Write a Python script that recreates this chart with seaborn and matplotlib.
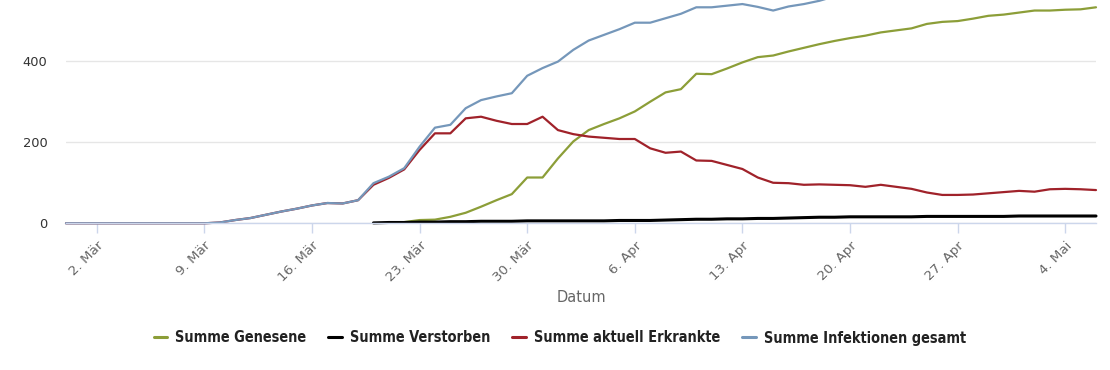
import numpy as np
import pandas as pd
import matplotlib
matplotlib.use("Agg")
import matplotlib.pyplot as plt
from matplotlib import font_manager
import seaborn as sns

# ---------------- data ----------------
start_date = "2020-02-29"
n_days = 68  # 29 Feb .. 6 May

# Summe Genesene (starts 22 Mar)
genesene_start = "2020-03-22"
genesene = [3, 8, 9, 16, 26, 41, 57, 72, 113, 113, 160, 202, 230, 245, 259, 276,
            300, 323, 331, 369, 368, 382, 397, 410, 414, 424, 433, 442, 450, 457,
            463, 471, 476, 481, 492, 497, 499, 505, 512, 515, 520, 525, 525, 527,
            528, 533]

# Summe Verstorben (starts 20 Mar)
verstorben_start = "2020-03-20"
verstorben = [1, 2, 2, 3, 3, 4, 4, 5, 5, 5, 6, 6, 6, 6, 6, 6, 7, 7, 7, 8, 9, 10,
              10, 11, 11, 12, 12, 13, 14, 15, 15, 16, 16, 16, 16, 16, 17, 17, 17,
              17, 17, 17, 18, 18, 18, 18, 18, 18]

# Summe aktuell Erkrankte (from 29 Feb)
erkrankte = [0, 0, 0, 0, 0, 0, 0, 0, 0, 0, 2, 8, 13, 21, 29, 36, 44, 50, 49, 57,
             95, 112, 133, 181, 222, 222, 259, 263, 253, 245, 245, 263, 230, 220,
             214, 211, 208, 208, 185, 174, 177, 155, 154, 144, 134, 113, 100, 99,
             95, 96, 95, 94, 90, 95, 90, 85, 76, 70, 70, 71, 74, 77, 80, 78, 84,
             85, 84, 82]

# Summe Infektionen gesamt (from 29 Feb)
infektionen = [0, 0, 0, 0, 0, 0, 0, 0, 0, 0, 2, 8, 13, 21, 29, 36, 44, 50, 49, 57,
               99, 115, 136, 189, 236, 243, 284, 304, 313, 321, 364, 383, 399, 428,
               451, 465, 479, 495, 495, 506, 517, 533, 533, 537, 541, 534, 525, 535,
               541, 549, 560, 567, 569, 582, 582, 582, 585, 584, 586, 593, 603, 609,
               618, 621, 627, 630, 630, 633]

series_names = ["Summe Genesene", "Summe Verstorben",
                "Summe aktuell Erkrankte", "Summe Infektionen gesamt"]
series_colors = ["#8c9e38", "#000000", "#a0222a", "#7597ba"]

tick_dates = ["2020-03-02", "2020-03-09", "2020-03-16", "2020-03-23", "2020-03-30",
              "2020-04-06", "2020-04-13", "2020-04-20", "2020-04-27", "2020-05-04"]
tick_labels = ["2. Mär", "9. Mär", "16. Mär", "23. Mär", "30. Mär",
               "6. Apr", "13. Apr", "20. Apr", "27. Apr", "4. Mai"]
y_ticks = [0, 200, 400]

# ---------------- build table ----------------
def frame(name, start, values):
    d = pd.date_range(start, periods=len(values), freq="D")
    return pd.DataFrame({"Datum": d, "Wert": values, "Serie": name})

df = pd.concat([
    frame(series_names[0], genesene_start, genesene),
    frame(series_names[1], verstorben_start, verstorben),
    frame(series_names[2], start_date, erkrankte),
    frame(series_names[3], start_date, infektionen),
], ignore_index=True)

# ---------------- fonts ----------------
def legend_fontprops(size):
    fp = font_manager.FontProperties(family="DejaVu Sans", stretch="condensed",
                                     weight="bold", size=size)
    path = font_manager.findfont(fp, fallback_to_default=True)
    if "Condensed" in path:
        return font_manager.FontProperties(fname=path, size=size)
    return font_manager.FontProperties(family="Roboto", weight="bold", size=size)

sns.set_theme(style="white")
plt.rcParams["font.family"] = ["DejaVu Sans"]

fig = plt.figure(figsize=(11.1, 3.7), dpi=100)
W, H = 1110, 370
left, right, top, bottom = 66, 1096, 0, 223.3
ax = fig.add_axes([left / W, 1 - bottom / H, (right - left) / W, (bottom - top) / H])

palette = dict(zip(series_names, series_colors))
sns.lineplot(data=df, x="Datum", y="Wert", hue="Serie", hue_order=series_names,
             palette=palette, linewidth=1.6, ax=ax, legend=True)
for ln in ax.get_lines():
    ln.set_clip_on(False)
    ln.set_solid_joinstyle("round")
    if matplotlib.colors.to_hex(ln.get_color()) == "#000000":
        ln.set_linewidth(2.2)

x0 = pd.Timestamp(start_date)
x1 = x0 + pd.Timedelta(days=n_days - 1)
ax.set_xlim(x0, x1)
ax.set_ylim(0, 551)

# grid & spines
ax.set_yticks(y_ticks)
ax.yaxis.grid(True, color="#e6e6e6", linewidth=1)
ax.xaxis.grid(False)
for s in ["top", "right", "left"]:
    ax.spines[s].set_visible(False)
ax.spines["bottom"].set_color("#ccd6eb")
ax.spines["bottom"].set_linewidth(1)
ax.set_axisbelow(True)

ax.tick_params(axis="y", length=0, pad=13.5, labelsize=9.4, labelcolor="#333333")
ax.set_xticks(pd.to_datetime(tick_dates))
ax.set_xticklabels(tick_labels, rotation=45, ha="right", rotation_mode="anchor",
                   color="#666666", fontsize=9.6)
ax.tick_params(axis="x", length=7.5, width=1, color="#ccd6eb", pad=4, bottom=True)

ax.set_ylabel("")
ax.set_xlabel("Datum", color="#666666", fontsize=10.5)
ax.xaxis.set_label_coords(0.5, -0.30)

# legend (font size fitted to the reference legend width of ~825 px)
handles, labels = ax.get_legend_handles_labels()
ax.get_legend().remove()

def make_legend(size):
    lg = fig.legend(handles, labels, loc="center", bbox_to_anchor=(0.5045, 1 - 338 / H),
                    ncol=4, frameon=False, handlelength=0.95, handletextpad=0.55,
                    columnspacing=1.5, prop=legend_fontprops(size))
    for h in lg.get_lines():
        h.set_linewidth(2.2)
    for t in lg.get_texts():
        t.set_color("#222222")
    return lg

size = 12.5
leg = make_legend(size)
renderer = fig.canvas.get_renderer()
for _ in range(3):
    w = leg.get_window_extent(renderer).width
    leg.remove()
    size = size * 830.0 / w
    leg = make_legend(size)

fig.savefig("out.png", dpi=100, facecolor="white")
